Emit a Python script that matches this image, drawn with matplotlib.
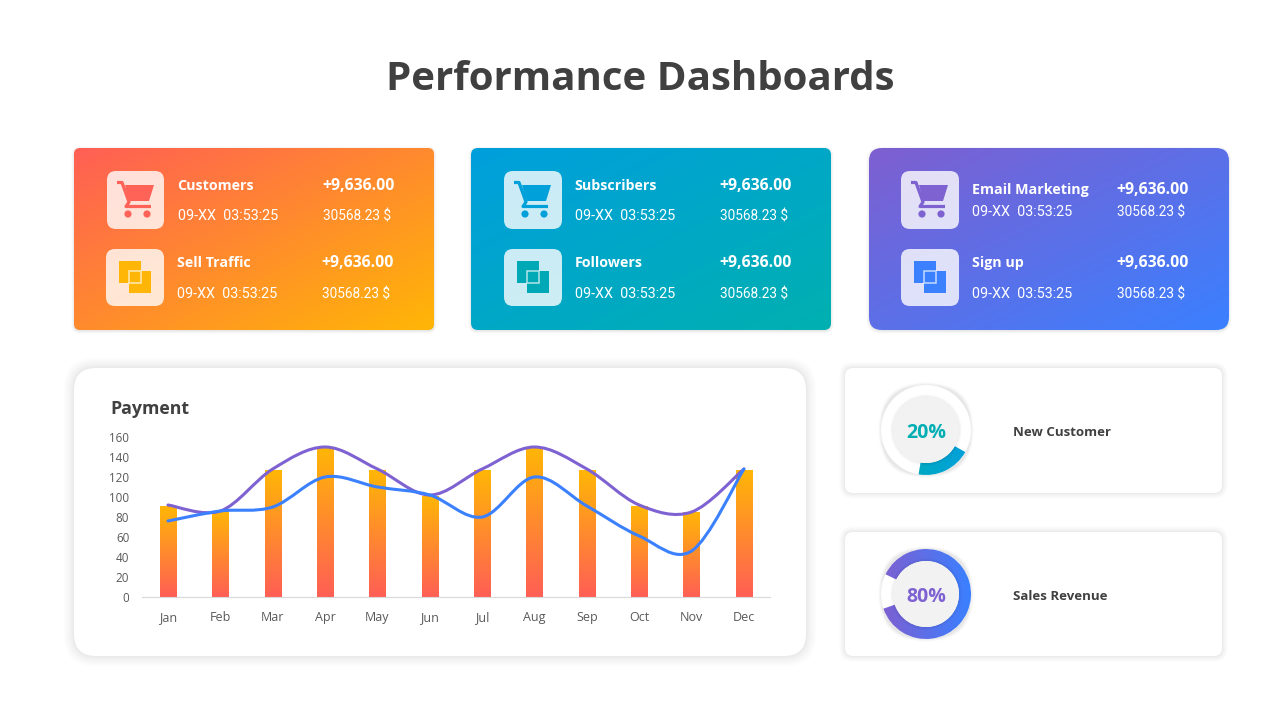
import numpy as np
import matplotlib
matplotlib.use("Agg")
import matplotlib.pyplot as plt
from matplotlib.colors import LinearSegmentedColormap
from matplotlib.patches import FancyBboxPatch, Circle, Rectangle, Polygon, PathPatch
from matplotlib.path import Path

plt.rcParams["font.family"] = ["Open Sans", "DejaVu Sans"]

# data
months = ["Jan", "Feb", "Mar", "Apr", "May", "Jun", "Jul", "Aug", "Sep", "Oct", "Nov", "Dec"]
bar_values = [91, 86, 127, 150, 127, 101, 127, 150, 127, 91, 85, 127]
purple_values = [92, 86, 128, 150, 128, 102, 128, 150, 128, 92, 85, 128]
blue_values = [76, 86, 90, 120, 110, 102, 80, 120, 91, 61, 46, 128]
y_ticks = [0, 20, 40, 60, 80, 100, 120, 140, 160]

row_names = ["Customers", "Sell Traffic", "Subscribers", "Followers", "Email Marketing", "Sign up"]
row_amount = "+9,636.00"
row_date = "09-XX  03:53:25"
row_total = "30568.23 $"

ring_labels = ["20%", "80%"]
ring_names = ["New Customer", "Sales Revenue"]
ring_arcs = [19.5, 87.5]  # share of the circle actually painted

DARK = "#404040"
RED, AMBER = "#FF5F55", "#FFB606"
SKY, TEAL = "#009FDD", "#00B0B0"
VIOLET, BLUE = "#7E5FD0", "#3A80FF"

fig = plt.figure(figsize=(12.8, 7.2), dpi=100, facecolor="white")
bg = fig.add_axes([0, 0, 1, 1])
bg.set_xlim(0, 1280)
bg.set_ylim(720, 0)
bg.axis("off")


def box(ax, x, y, w, h, r, **kw):
    p = FancyBboxPatch((x + r, y + r), w - 2 * r, h - 2 * r,
                       boxstyle="round,pad=%f,rounding_size=%f" % (r, r), **kw)
    ax.add_patch(p)
    return p


def shadow(ax, x, y, w, h, r, spread, dy=0, alpha=0.006, n=24):
    # soft edge from a stack of faint boxes, packed closer towards the card
    for t in np.linspace(1, 0, n):
        g = spread * t ** 1.4
        box(ax, x - g, y - g + dy, w + 2 * g, h + 2 * g, r + g,
            fc="black", ec="none", alpha=alpha)


def card(x, y, w, h, r, c0, c1):
    shadow(bg, x, y, w, h, r, 3, dy=1, alpha=0.004)
    p = box(bg, x, y, w, h, r, fc="none", ec="none")
    u, v = np.meshgrid(np.linspace(0, 1, 200), np.linspace(0, 1, 120))
    cmap = LinearSegmentedColormap.from_list("c", [c0, c1])
    im = bg.imshow((u + v) / 2, extent=(x, x + w, y + h, y), cmap=cmap, vmin=0, vmax=1,
                   aspect="auto", origin="upper", interpolation="bilinear", zorder=1)
    im.set_clip_path(p)


def cart(x, y, color):
    bg.add_patch(Polygon([(x + 18, y + 14), (x + 47, y + 14), (x + 42, y + 30), (x + 22, y + 30)],
                         fc=color, ec="none", joinstyle="round"))
    bg.add_patch(PathPatch(Path([(x + 10, y + 11.5), (x + 15, y + 11.5), (x + 22, y + 31),
                                 (x + 19, y + 35.5), (x + 44, y + 35.5)]),
                           fc="none", ec=color, lw=2.3, joinstyle="round"))
    bg.add_patch(Circle((x + 21, y + 43), 3.6, fc=color, ec="none"))
    bg.add_patch(Circle((x + 40, y + 43), 3.6, fc=color, ec="none"))


def squares(x, y, color):
    bg.add_patch(Rectangle((x + 13, y + 12), 22, 22, fc=color, ec="none"))
    bg.add_patch(Rectangle((x + 23, y + 22), 22, 22, fc=color, ec="none"))
    bg.add_patch(Rectangle((x + 23, y + 22), 12, 12, fc="none", ec=(1, 1, 1, 0.7), lw=1.1))


def icon(x, y, w, h, kind, color):
    box(bg, x, y, w, h, 9, fc="white", ec="none", alpha=0.8)
    if kind == "cart":
        cart(x, y, color)
    else:
        squares(x, y, color)


def row(x, xa, y_top, y_low, name, name_dx=0):
    bg.text(x + name_dx, y_top + 1, name, color="white", fontsize=10.3, fontweight="bold", va="center")
    bg.text(xa, y_top + 1, row_amount, color="white", fontsize=11.4, fontweight="bold", va="center")
    bg.text(x, y_low + 1, row_date, color="white", fontsize=10.4, family="Roboto", va="center")
    bg.text(xa + 1, y_low + 1, row_total, color="white", fontsize=9.8, family="Roboto", va="center")


bg.text(640, 79, "Performance Dashboards", color=DARK, fontsize=29, fontweight="bold",
        ha="center", va="center")

# top cards
card(74, 148, 360, 182, 6, RED, AMBER)
card(471, 148, 360, 182, 7, SKY, TEAL)
card(869, 148, 360, 182, 13, VIOLET, BLUE)

icon(107, 171, 57, 58, "cart", "#FF6257")
icon(106, 249, 58, 57, "squares", "#FFB606")
icon(504, 171, 58, 58, "cart", "#00A0DA")
icon(504, 249, 58, 57, "squares", "#00A9B5")
icon(901, 171, 58, 58, "cart", "#7E62D2")
icon(901, 249, 58, 57, "squares", "#3A80FF")

row(178, 322, 185, 215, row_names[0], name_dx=-1)
row(177, 321, 262, 293, row_names[1])
row(575, 719, 185, 215, row_names[2], name_dx=-1)
row(575, 719, 262, 293, row_names[3])
row(972, 1116, 189, 211, row_names[4])
row(972, 1116, 262, 293, row_names[5])

# lower cards
shadow(bg, 74, 368, 732, 288, 22, 11, alpha=0.005)
box(bg, 74, 368, 732, 288, 22, fc="white", ec="none")
shadow(bg, 845, 368, 377, 125, 8, 6, alpha=0.0035)
box(bg, 845, 368, 377, 125, 8, fc="white", ec="none")
shadow(bg, 845, 532, 377, 124, 8, 6, alpha=0.0035)
box(bg, 845, 532, 377, 124, 8, fc="white", ec="none")

bg.text(110, 409, "Payment", color=DARK, fontsize=12.8, fontweight="bold", va="center")
bg.text(1013, 433, ring_names[0], color=DARK, fontsize=9.5, fontweight="bold", va="center")
bg.text(1013, 596, ring_names[1], color=DARK, fontsize=9.5, fontweight="bold", va="center")

# payment chart
ax = fig.add_axes([141.8 / 1280, (720 - 597) / 720, 628.3 / 1280, 160 / 720])
ax.patch.set_alpha(0)
xs = np.arange(len(months))
bars = ax.bar(xs, bar_values, width=0.31, color="none")
bar_cmap = LinearSegmentedColormap.from_list("bar", [AMBER, RED])
grad = np.linspace(0, 1, 100).reshape(-1, 1)
for b in bars:
    im = ax.imshow(grad, extent=(b.get_x(), b.get_x() + b.get_width(), 0, b.get_height()),
                   cmap=bar_cmap, aspect="auto", origin="upper", zorder=2)
    im.set_clip_path(b)


def smooth_line(x, y):
    # bezier through the values, same as the "smoothed line" option of office charts
    pts = np.column_stack([x, y]).astype(float)
    verts = [pts[0]]
    codes = [Path.MOVETO]
    for i in range(len(pts) - 1):
        prev = pts[max(i - 1, 0)]
        nxt = pts[min(i + 2, len(pts) - 1)]
        verts += [pts[i] + (pts[i + 1] - prev) / 6, pts[i + 1] - (nxt - pts[i]) / 6, pts[i + 1]]
        codes += [Path.CURVE4] * 3
    return Path(verts, codes)


ax.add_patch(PathPatch(smooth_line(xs, purple_values), fc="none", ec="#7E62D2", lw=2.2,
                       capstyle="round", zorder=3))
ax.add_patch(PathPatch(smooth_line(xs, blue_values), fc="none", ec="#3A80FF", lw=2.2,
                       capstyle="round", zorder=4))

ax.set_xlim(-0.5, 11.5)
ax.set_ylim(0, 160)
ax.set_xticks(xs, months)
ax.set_yticks(y_ticks)
ax.tick_params(length=0, labelcolor="#595959")
ax.tick_params(axis="x", pad=17, labelsize=9)
ax.tick_params(axis="y", pad=9, labelsize=8.4)
for lab in ax.get_xticklabels():
    lab.set_va("baseline")
for s in ["top", "left", "right"]:
    ax.spines[s].set_visible(False)
ax.spines["bottom"].set_color("#D9D9D9")


# progress rings
def ring(cx, cy, arc, start, c0, c1, label, label_color):
    rad = 45
    shadow(bg, cx - rad, cy - rad, 2 * rad, 2 * rad, rad, 3, alpha=0.003)
    bg.add_patch(Circle((cx, cy), rad, fc="white", ec="none"))
    a = fig.add_axes([(cx - rad) / 1280, (720 - cy - rad) / 720, 2 * rad / 1280, 2 * rad / 720])
    wedges, _ = a.pie([arc, 100 - arc], startangle=start, radius=1, counterclock=True,
                      colors=["none", "none"], wedgeprops={"width": 12 / 45, "ec": "none"})
    cmap = LinearSegmentedColormap.from_list("r", [c0, c1])
    u = np.linspace(0, 1, 100).reshape(1, -1)
    im = a.imshow(u, extent=(-1, 1, -1, 1), cmap=cmap, aspect="auto", zorder=2)
    im.set_clip_path(wedges[0])
    for g in np.linspace(36, 33.5, 8):
        a.add_patch(Circle((0, 0), g / rad, fc="black", ec="none", alpha=0.006, zorder=3))
    a.add_patch(Circle((0, 0), 33 / rad, fc="#F2F2F2", ec="none", zorder=3))
    a.text(0, -0.06, label, color=label_color, fontsize=14, fontweight="bold",
           ha="center", va="center", zorder=4)
    a.set_xlim(-1, 1)
    a.set_ylim(-1, 1)
    a.set_aspect("equal")
    a.axis("off")


ring(926, 430, ring_arcs[0], -99.5, TEAL, SKY, ring_labels[0], "#00AEB4")
ring(926, 594, ring_arcs[1], 199, VIOLET, BLUE, ring_labels[1], "#7E62D2")

fig.savefig("out.png", dpi=100)
